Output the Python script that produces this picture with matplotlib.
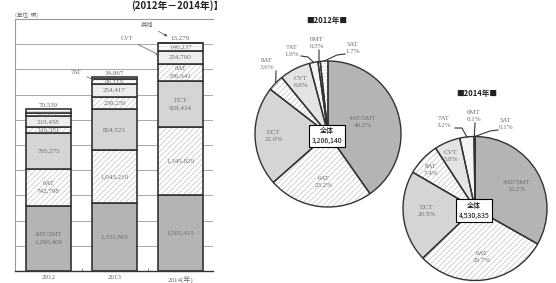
import matplotlib
matplotlib.use('Agg')
import matplotlib.pyplot as plt
import numpy as np

W, H = 556, 283
plt.rcParams['hatch.linewidth'] = 0.5
SERIF = ['Liberation Serif', 'Noto Sans CJK SC']
CJK = ['Noto Sans CJK SC', 'DejaVu Sans']

# ---------------- data ----------------
years = ['2012', '2013', '2014(年)']
seg_names = ['4AT/5MT', '6AT', 'DCT', '8AT', 'CVT', '7AT', '其他']
v_4at5mt = [1290406, 1351865, 1505415]
v_6at = [742798, 1043210, 1345829]
v_dct = [705275, 824523, 928434]
v_8at = [116351, 238259, 336941]
v_cvt = [219458, 254417, 254700]
v_7at = [61313, 96119, 146237]
v_other = [70539, 34867, 13279]

pie_names = ['4AT/5MT', '6AT', 'DCT', '8AT', 'CVT', '7AT', '6MT', '5AT']
pie_2012 = [40.2, 23.2, 22.0, 3.6, 6.8, 1.9, 0.5, 1.7]
pie_2014 = [33.2, 29.7, 20.5, 7.4, 5.8, 3.2, 0.1, 0.1]
total_2012 = '3,206,140'
total_2014 = '4,530,835'

# ---------------- figure ----------------
fig = plt.figure(figsize=(W / 100, H / 100), dpi=100)


def fp(x, y):
    return x / W, 1 - y / H


fig.text(*fp(177, 6), '(2012年－2014年)】', family=CJK, fontsize=7,
         fontweight='bold', color='#222222', ha='center', va='center')
fig.text(*fp(15, 15), '(单位: 辆)', family=CJK, fontsize=4,
         color='#666666', ha='left', va='center')

# ---------------- stacked bars ----------------
ax = fig.add_axes([15 / W, 12 / H, 198 / W, 252 / H])
ax.set_xlim(-0.508, 2.492)
ax.set_ylim(0, 5e6)
ax.set_axisbelow(True)
ax.set_yticks(np.arange(0, 5e6 + 1, 5e5))
ax.yaxis.grid(True, color='#a8a8a8', lw=0.7)
ax.tick_params(axis='y', length=0, labelleft=False)
for s in ['left', 'top']:
    ax.spines[s].set_color('#999999')
    ax.spines[s].set_linewidth(0.8)
ax.spines['right'].set_visible(False)
ax.spines['bottom'].set_color('#333333')
ax.spines['bottom'].set_linewidth(1.0)

x = np.arange(len(years))
ax.set_xticks(x)
ax.set_xticklabels(years, family=SERIF, fontsize=5, color='#666666')
ax.tick_params(axis='x', length=0, pad=3)
ax.set_xticks([0.5, 1.5], minor=True)
ax.tick_params(axis='x', which='minor', length=2, direction='in', color='#777777')

series = [v_4at5mt, v_6at, v_dct, v_8at, v_cvt, v_7at, v_other]
bar_fc = ['#b4b4b4', 'white', '#d5d5d5', 'white', '#ededed', 'white', 'white']
bar_hatch = [None, '//////', None, '//////', None, '.....', '-----']
bw = 0.68
show_name = {(0, 0), (0, 1), (2, 2), (2, 3)}
bottom = np.zeros(len(years))
for k, vals in enumerate(series):
    vals = np.array(vals, dtype=float)
    ax.bar(x, vals, bw, bottom=bottom, color=bar_fc[k], hatch=bar_hatch[k],
           edgecolor='#c2c2c2', linewidth=0)
    ax.bar(x, vals, bw, bottom=bottom, fill=False, edgecolor='#333333',
           linewidth=1.2)
    for i in range(len(years)):
        if k == len(series) - 1:
            ax.annotate(f'{int(vals[i]):,}', (x[i], bottom[i] + vals[i]),
                        xytext=(0, 1.5), textcoords='offset points',
                        ha='center', va='bottom', family=SERIF, fontsize=5,
                        color='#666666')
        else:
            txt = f'{int(vals[i]):,}'
            if (i, k) in show_name:
                txt = seg_names[k] + '\n' + txt
            ax.text(x[i], bottom[i] + vals[i] / 2, txt, ha='center',
                    va='center', family=SERIF, fontsize=5, color='#6e6e6e',
                    linespacing=1.6)
    bottom = bottom + vals

arrow = dict(arrowstyle='-|>', color='#555555', lw=0.5, mutation_scale=4)
cum = np.cumsum(np.array(series, dtype=float), axis=0)
# 7AT (2013)
ax.annotate('7AT', xy=(1 - 0.265, cum[4][1] + v_7at[1] / 2),
            xytext=(76, H - 72), textcoords='figure pixels', ha='center',
            va='center', family=SERIF, fontsize=4.5, color='#666666',
            arrowprops=arrow)
# CVT (2014)
ax.annotate('CVT', xy=(2 - 0.28, cum[3][2] + v_cvt[2] * 0.55),
            xytext=(127, H - 39), textcoords='figure pixels', ha='center',
            va='center', family=SERIF, fontsize=4.5, color='#666666',
            arrowprops=arrow)
# 其他 (2014)
ax.annotate('其他', xy=(2 - 0.16, cum[6][2] + 1.0e5),
            xytext=(147, H - 25), textcoords='figure pixels', ha='center',
            va='center', family=CJK, fontsize=4.5, color='#666666',
            arrowprops=arrow)

# ---------------- pies ----------------
pie_fc = ['#b4b4b4', 'white', '#d5d5d5', 'white', '#e4e4e4', '#f4f4f4',
          'white', 'white']
pie_hatch = ['', '//////', '', '//////', '', '', '', '.....']


def draw_pie(cx, cy, R, vals, title, title_xy, total, label_pos, leaders):
    axp = fig.add_axes([(cx - 100) / W, 1 - (cy + 100) / H, 200 / W, 200 / H])
    axp.pie(vals, startangle=90, counterclock=False, radius=R, colors=pie_fc,
            hatch=pie_hatch, wedgeprops=dict(edgecolor='#c2c2c2', linewidth=0))
    axp.pie(vals, startangle=90, counterclock=False, radius=R,
            colors=['none'] * len(vals),
            wedgeprops=dict(edgecolor='#333333', linewidth=1.0))
    axp.set_xlim(-100, 100)
    axp.set_ylim(-100, 100)
    axp.axis('off')
    tot = sum(vals)
    c = np.cumsum([0] + list(vals))
    for i, name in enumerate(pie_names):
        lx, ly = label_pos[i]
        axp.text(lx, ly, f'{name}\n{vals[i]:.1f}%', ha='center', va='center',
                 family=SERIF, fontsize=5, color='#6e6e6e', linespacing=1.6)
        if i in leaders:
            th = np.deg2rad(90 - 360 * (c[i] + vals[i] / 2) / tot)
            pts = leaders[i] + [(R * np.cos(th), R * np.sin(th))]
            axp.plot([p[0] for p in pts], [p[1] for p in pts],
                     color='#333333', lw=0.8)
    axp.text(-1, -2, '全体\n' + total, ha='center', va='center', family=CJK,
             fontsize=5, color='black', linespacing=1.3,
             bbox=dict(boxstyle='square,pad=0.35', fc='white', ec='black',
                       lw=0.8))
    fig.text(*fp(*title_xy), title, family=CJK, fontsize=5.5,
             fontweight='bold', color='#222222', ha='center', va='center')


pos_2012 = [(35, 12), (-4, -48), (-54, -2), (-61, 70), (-27, 52),
            (-36, 83), (-11, 91), (25, 86)]
lead_2012 = {3: [(-52, 63)], 5: [(-27, 78), (-20, 77)],
             6: [(-9, 84)], 7: [(17, 80), (9, 79)]}
draw_pie(328, 134, 73, pie_2012, '■2012年■', (327, 21), total_2012,
         pos_2012, lead_2012)

pos_2014 = [(42, 22.5), (7, -48.5), (-48, -2.5), (-44, 38.5), (-24, 52.5),
            (-31, 86.5), (-1, 92.5), (31, 84.5)]
lead_2014 = {5: [(-20, 80.5), (-13, 80.5)], 6: [(0, 85.5)],
             7: [(23, 78.5), (15, 77.5)]}
draw_pie(475, 208.5, 72, pie_2014, '■2014年■', (477, 94), total_2014,
         pos_2014, lead_2014)

fig.savefig('out.png', dpi=100)
